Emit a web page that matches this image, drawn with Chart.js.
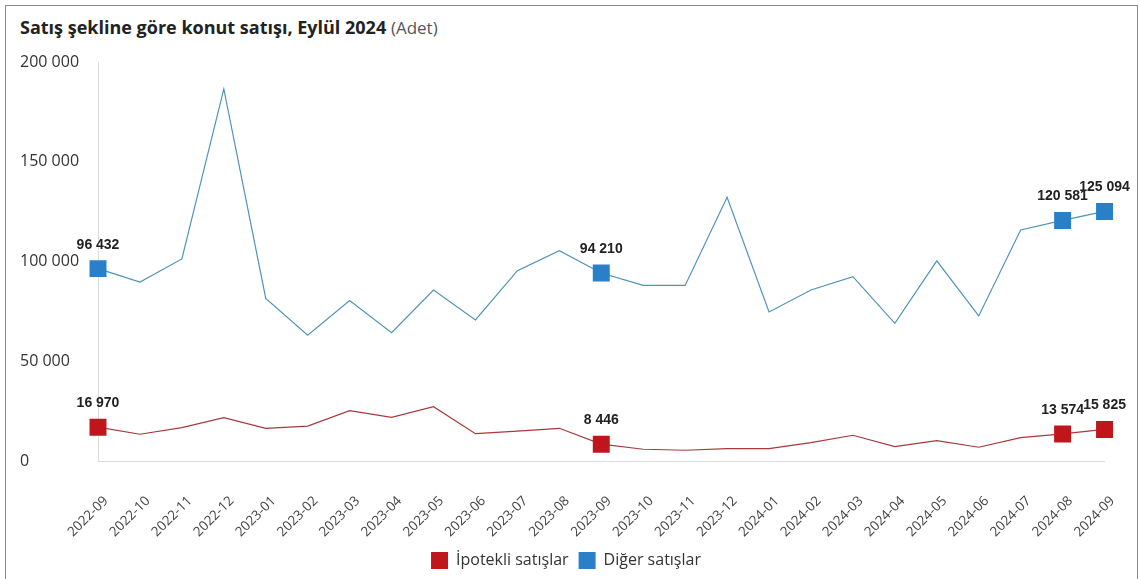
<!DOCTYPE html>
<html>
<head>
<meta charset="utf-8">
<script src="https://cdn.jsdelivr.net/npm/chart.js@4"></script>
<style>
  body { margin: 0; background: #fff; overflow: hidden; }
  #wrap { position: relative; width: 1140px; height: 579px; }
  #frame { position: absolute; left: 5px; top: 5px; width: 1131px; height: 600px; border: 1px solid #8a8a8a; }
  #title { position: absolute; left: 20px; top: 15px; font-family: "Open Sans", sans-serif; font-size: 18px; font-weight: 700; color: #222; white-space: nowrap; }
  #title span { font-weight: 400; color: #555; font-size: 17px; }
  canvas { position: absolute; left: 0; top: 0; }
</style>
</head>
<body>
<div id="wrap">
  <div id="frame"></div>
  <div id="title">Satış şekline göre konut satışı, Eylül 2024 <span>(Adet)</span></div>
  <canvas id="chart" width="1140" height="579"></canvas>
</div>
<script>
const months = ['2022-09', '2022-10', '2022-11', '2022-12', '2023-01', '2023-02', '2023-03', '2023-04',
    '2023-05', '2023-06', '2023-07', '2023-08', '2023-09', '2023-10', '2023-11', '2023-12',
    '2024-01', '2024-02', '2024-03', '2024-04', '2024-05', '2024-06', '2024-07', '2024-08', '2024-09'];
const mortgageSales = [16970, 13400, 16700, 21700, 16400, 17500, 25200, 21900, 27200, 13700, 15000, 16400,
    8446, 5900, 5400, 6200, 6200, 9200, 12900, 7200, 10200, 6900, 11700, 13574, 15825];
const otherSales = [96432, 89700, 101300, 186500, 81500, 63000, 80400, 64300, 85700, 70700, 95400, 105400,
    94210, 88000, 88000, 132200, 74700, 85700, 92400, 69000, 100300, 72700, 115800, 120581, 125094];
const markedPoints = [0, 12, 23, 24];
const yTicks = [0, 50000, 100000, 150000, 200000];

function fmt(v) {
    return String(v).replace(/\B(?=(\d{3})+(?!\d))/g, ' ');
}

// value labels above the highlighted points
const pointLabels = {
    id: 'pointLabels',
    afterDatasetsDraw(chart) {
        const ctx = chart.ctx;
        ctx.save();
        ctx.font = 'bold 14px "Liberation Sans", Arial, sans-serif';
        ctx.fillStyle = '#222';
        ctx.textAlign = 'center';
        ctx.textBaseline = 'alphabetic';
        chart.data.datasets.forEach((ds, i) => {
            const meta = chart.getDatasetMeta(i);
            markedPoints.forEach(idx => {
                const p = meta.data[idx];
                ctx.fillText(fmt(ds.data[idx]), p.x, p.y - 20);
            });
        });
        ctx.restore();
    }
};

const radius = ctx => markedPoints.includes(ctx.dataIndex) ? 12 : 0;

new Chart(document.getElementById('chart').getContext('2d'), {
    type: 'line',
    data: {
        labels: months,
        datasets: [{
            label: 'İpotekli satışlar',
            data: mortgageSales,
            borderColor: '#a8393b',
            backgroundColor: '#c0161b',
            borderWidth: 1.2,
            pointStyle: 'rect',
            pointRadius: radius,
            pointHoverRadius: radius,
            pointBorderWidth: 0,
            pointBackgroundColor: '#c0161b',
        }, {
            label: 'Diğer satışlar',
            data: otherSales,
            borderColor: '#4f93b9',
            backgroundColor: '#2a7fc9',
            borderWidth: 1.2,
            pointStyle: 'rect',
            pointRadius: radius,
            pointHoverRadius: radius,
            pointBorderWidth: 0,
            pointBackgroundColor: '#2a7fc9',
        }],
    },
    options: {
        responsive: false,
        animation: false,
        layout: { padding: { left: 20, right: 28, top: 62, bottom: 0 } },
        plugins: {
            legend: {
                position: 'bottom',
                labels: {
                    boxWidth: 17,
                    boxHeight: 17,
                    padding: 10,
                    color: '#333',
                    font: { family: '"Open Sans", sans-serif', size: 16 },
                    generateLabels(chart) {
                        return chart.data.datasets.map((ds, i) => ({
                            text: ds.label,
                            fillStyle: ds.backgroundColor,
                            strokeStyle: ds.backgroundColor,
                            lineWidth: 0,
                            fontColor: '#333',
                            datasetIndex: i,
                        }));
                    },
                },
            },
            tooltip: { enabled: false },
        },
        scales: {
            x: {
                grid: { display: false },
                border: { display: true, color: '#dcdcdc' },
                offset: false,
                afterFit(scale) { scale.height = 81; },
                ticks: {
                    autoSkip: false,
                    maxRotation: 45,
                    minRotation: 45,
                    color: '#444',
                    padding: 24,
                    labelOffset: 8,
                    font: { family: '"Open Sans", sans-serif', size: 13.5 },
                },
            },
            y: {
                min: 0,
                max: 200000,
                afterBuildTicks(scale) {
                    scale.ticks = yTicks.map(v => ({ value: v }));
                },
                afterFit(scale) { scale.width = 78; },
                grid: { display: false },
                border: { display: true, color: '#dcdcdc' },
                ticks: {
                    crossAlign: 'far',
                    color: '#333',
                    font: { family: '"Open Sans", sans-serif', size: 16 },
                    callback: v => fmt(v),
                },
            },
        },
    },
    plugins: [pointLabels],
});
</script>
</body>
</html>
